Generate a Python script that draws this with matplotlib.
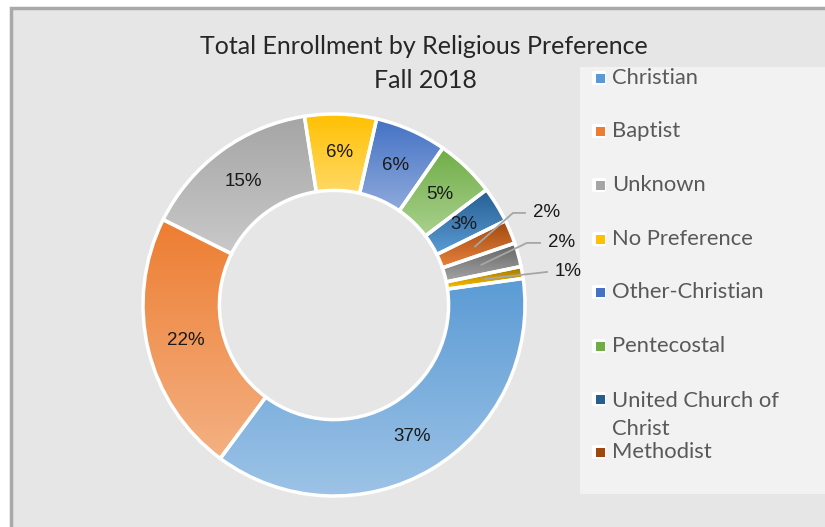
import numpy as np
import matplotlib
matplotlib.use("Agg")
import matplotlib.pyplot as plt
from matplotlib.patches import Rectangle, FancyBboxPatch
from matplotlib.colors import to_rgb

# data (percent of total enrollment), clockwise from Christian
religions = ["Christian", "Baptist", "Unknown", "No Preference", "Other-Christian",
             "Pentecostal", "United Church of\nChrist", "Methodist", "Other", "Catholic"]
shares = [37, 22, 15, 6, 6, 5, 3, 2, 2, 1]

# gradient colours, top -> bottom of each slice
top_colors = ["#5B9BD5", "#ED7D31", "#A5A5A5", "#FFC000", "#4472C4",
              "#70AD47", "#255E91", "#9E480E", "#636363", "#997300"]
bottom_colors = ["#9DC3E6", "#F4B183", "#C9C9C9", "#FFD966", "#8FAADC",
                 "#A9D18E", "#5B9BD5", "#E8823E", "#A5A5A5", "#FFC000"]

W, H = 825, 527
CX, CY, R = 334, 305, 191   # donut centre / radius in pixels

fig = plt.figure(figsize=(W / 100, H / 100), dpi=100)
fig.patch.set_facecolor("white")
ax = fig.add_axes([0, 0, 1, 1])
ax.axis("off")


def fxy(x, y):
    # pixel position (from top-left) -> axes fraction
    return x / W, 1 - y / H


# chart area with border on left / top
ax.add_patch(Rectangle(fxy(11, 540), (W + 20) / W, 532 / H, transform=ax.transAxes,
                       facecolor="#e6e6e6", edgecolor="#a9a9a9", lw=2.5, zorder=0,
                       clip_on=False))

wedges, _ = ax.pie(shares, startangle=8, counterclock=False, radius=1,
                   wedgeprops=dict(width=0.4, edgecolor="white", linewidth=2.5,
                                   facecolor="none", zorder=3))

for w, c_top, c_bot in zip(wedges, top_colors, bottom_colors):
    ext = w.get_path().get_extents()
    t = np.linspace(0, 1, 256)[:, None, None]
    grad = (1 - t) * np.array(to_rgb(c_bot)) + t * np.array(to_rgb(c_top))
    im = ax.imshow(grad, extent=(ext.x0, ext.x1, ext.y0, ext.y1), origin="lower",
                   aspect="auto", interpolation="bilinear", zorder=2)
    im.set_clip_path(w)

# map data units so that radius 1 == R pixels
ax.set_xlim(-CX / R, (W - CX) / R)
ax.set_ylim((CY - H) / R, CY / R)
ax.set_aspect("auto")

# percentage labels
small_pos = {7: (1.026, 0.482, 0.937, 1.0), 8: (1.105, 0.325, 1.01, 1.079),
             9: (1.141, 0.173, 1.115, 1.115)}
total = sum(shares)
for i, w in enumerate(wedges):
    mid = np.deg2rad((w.theta1 + w.theta2) / 2)
    txt = "%d%%" % round(100 * shares[i] / total)
    if i in small_pos:
        tx, ty, ex, hx = small_pos[i]
        sx, sy = 0.8 * np.cos(mid), 0.8 * np.sin(mid)
        ax.plot([sx, ex, hx], [sy, ty, ty], color="#a6a6a6", lw=1.3, zorder=5)
        ax.text(tx + 0.015, ty, txt, ha="left", va="center", fontsize=13.5,
                family="Liberation Sans", color="#1a1a1a", zorder=6)
    else:
        ax.text(0.8 * np.cos(mid), 0.8 * np.sin(mid), txt, ha="center", va="center",
                fontsize=13.5, family="Liberation Sans", color="#1a1a1a", zorder=6)

# title
ax.text(*fxy(424, 47), "Total Enrollment by Religious Preference", transform=ax.transAxes,
        ha="center", va="center", fontsize=18, family="Lato", color="#262626")
ax.text(*fxy(425, 80), "Fall 2018", transform=ax.transAxes,
        ha="center", va="center", fontsize=18, family="Lato", color="#262626")

# legend (clipped on the right in the original)
ax.add_patch(Rectangle(fxy(580, 494), 260 / W, 427 / H, transform=ax.transAxes,
                       facecolor="#f2f2f2", edgecolor="none", zorder=4, clip_on=False))
legend_y = [78, 131, 185, 239, 292, 346, 399, 452]
for lab, col, y in zip(religions, top_colors, legend_y):
    ax.add_patch(FancyBboxPatch(fxy(592, y + 7), 14 / W, 14 / H, transform=ax.transAxes,
                                boxstyle="round,pad=0,rounding_size=0.003",
                                facecolor="white", edgecolor="none", zorder=5))
    ax.add_patch(Rectangle(fxy(595.5, y + 4.5), 9 / W, 9 / H, transform=ax.transAxes,
                           facecolor=col, edgecolor="none", zorder=6))
    if "\n" in lab:
        ax.text(*fxy(612, y - 8), lab, transform=ax.transAxes, ha="left", va="top",
                fontsize=15.8, family="Lato", color="#595959", zorder=7,
                linespacing=1.5)
    else:
        ax.text(*fxy(612, y), lab, transform=ax.transAxes, ha="left", va="center",
                fontsize=15.8, family="Lato", color="#595959", zorder=7)

fig.savefig("out.png", dpi=100, facecolor=fig.get_facecolor())
